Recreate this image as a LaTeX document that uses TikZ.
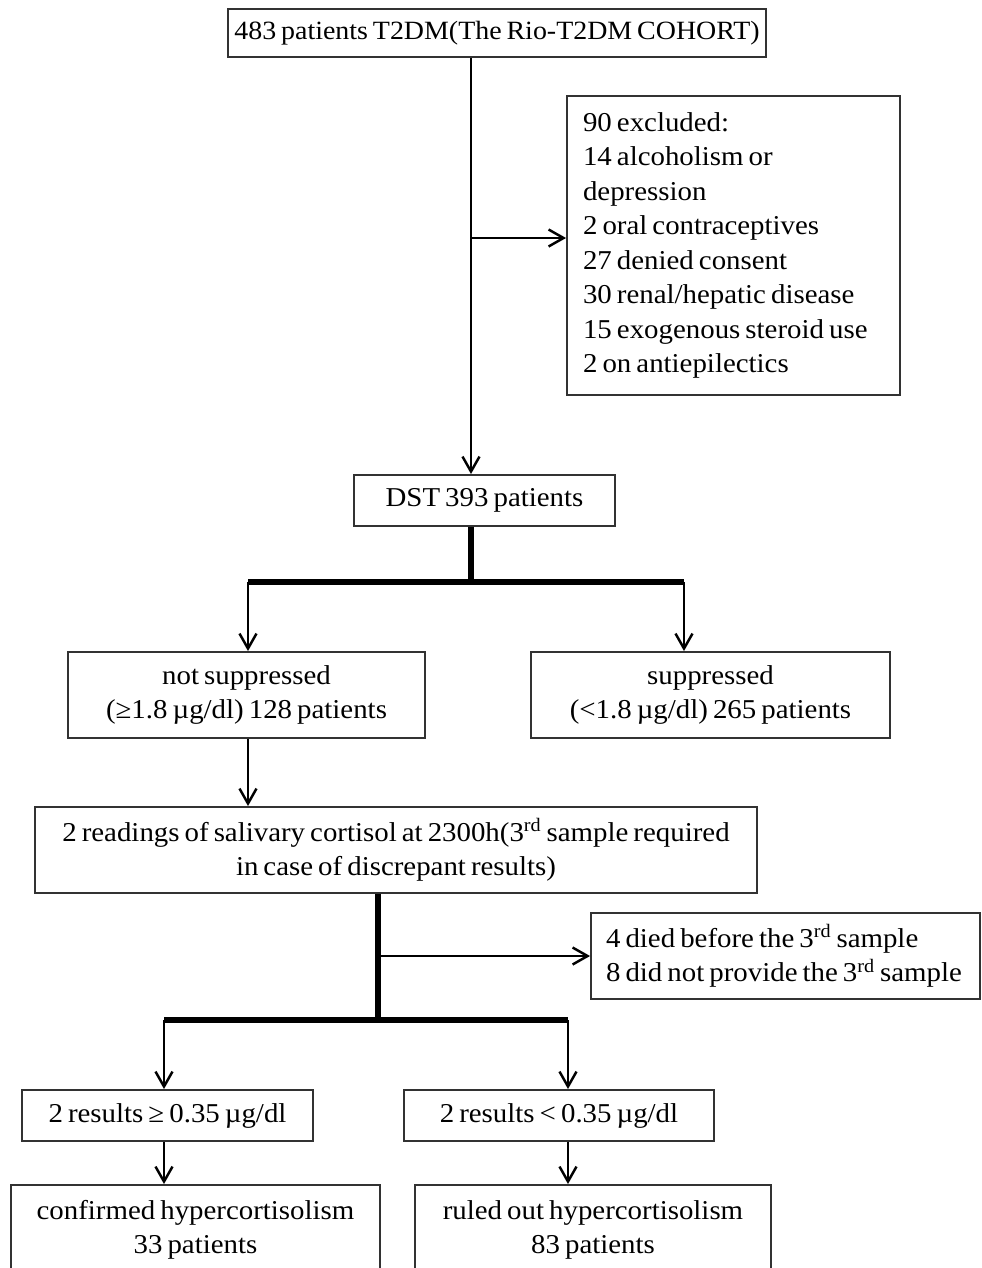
\documentclass[tikz,border=0pt]{standalone}
\usepackage{fontspec}
\setmainfont[FakeStretch=1.06, WordSpace=0.7]{Liberation Serif}
\usetikzlibrary{arrows.meta,positioning,calc}
\definecolor{boxline}{RGB}{50,50,50}
\tikzset{
  stage/.style={draw=boxline, line width=1.1pt, fill=white, align=center,
    inner sep=0pt, text=black},
  note/.style={draw=boxline, line width=1.1pt, fill=white, align=flush left,
    inner xsep=0.32cm, inner ysep=0pt, text=black},
  flow/.style={-{Straight Barb[length=3mm,width=3.4mm]}, line width=1.4pt},
  spine/.style={line width=3pt}
}

\begin{document}
\begin{tikzpicture}[x=0.02cm, y=-0.02cm, font=\fontsize{15.5}{19.6}\selectfont]
  \useasboundingbox (0,0) rectangle (982,1268);
  \clip (0,0) rectangle (982,1268);

  \node[stage, minimum width=10.76cm, minimum height=0.96cm, font=\fontsize{15}{19.6}\selectfont] (cohort) at (497,33) {483 patients T2DM(The Rio-T2DM COHORT)};
  \node[note, text width=6.02cm, minimum height=5.98cm] (excl) at (733.5,245.5) {90 excluded:\\14 alcoholism or\\depression\\2 oral contraceptives\\27 denied consent\\30 renal/hepatic disease\\15 exogenous steroid use\\2 on antiepilectics};
  \node[stage, minimum width=5.22cm, minimum height=1.02cm] (dst) at (484.5,500.5) {DST 393 patients};
  \node[stage, minimum width=7.14cm, minimum height=1.72cm] (notsup) at (246.5,695) {not suppressed\\(≥1.8 µg/dl) 128 patients};
  \node[stage, minimum width=7.18cm, minimum height=1.72cm] (sup) at (710.5,695) {suppressed\\(<1.8 µg/dl) 265 patients};
  \node[stage, minimum width=14.44cm, minimum height=1.72cm] (saliva) at (396,850) {2 readings of salivary cortisol at 2300h(3\textsuperscript{rd} sample required\\in case of discrepant results)};
  \node[note, inner xsep=0.3cm, text width=7.18cm, minimum height=1.72cm] (lost) at (785.5,956) {4 died before the 3\textsuperscript{rd} sample\\8 did not provide the 3\textsuperscript{rd} sample};
  \node[stage, minimum width=5.82cm, minimum height=1.02cm] (highres) at (167.5,1115.5) {2 results ≥ 0.35 µg/dl};
  \node[stage, minimum width=6.2cm, minimum height=1.02cm] (lowres) at (559,1115.5) {2 results < 0.35 µg/dl};
  \node[stage, minimum width=7.38cm, minimum height=1.8cm] (confirmed) at (195.5,1230) {confirmed hypercortisolism\\33 patients};
  \node[stage, minimum width=7.12cm, minimum height=1.8cm] (ruled) at (593,1230) {ruled out hypercortisolism\\83 patients};

  % columns and split levels of the connectors
  \coordinate (trunk) at (471,0);
  \coordinate (split1) at (0,582);
  \coordinate (leftcol) at (248,0);
  \coordinate (rightcol) at (684,0);
  \coordinate (stem) at (378,0);
  \coordinate (split2) at (0,1020);
  \coordinate (highcol) at (164,0);
  \coordinate (lowcol) at (568,0);
  \coordinate (exclin) at ([yshift=0.15cm]excl.west);

  \draw[flow] (cohort.south -| trunk) -- (dst.north -| trunk);
  \draw[flow] (trunk |- exclin) -- (exclin);

  \draw[spine] (dst.south -| trunk) -- (trunk |- split1);
  \draw[spine] (leftcol |- split1) -- (rightcol |- split1);
  \draw[flow] (leftcol |- split1) -- (leftcol |- notsup.north);
  \draw[flow] (rightcol |- split1) -- (rightcol |- sup.north);
  \draw[flow] (notsup.south -| leftcol) -- (saliva.north -| leftcol);

  \draw[spine] (saliva.south -| stem) -- (stem |- split2);
  \draw[flow] (stem |- lost.west) -- (lost.west);
  \draw[spine] (highcol |- split2) -- (lowcol |- split2);
  \draw[flow] (highcol |- split2) -- (highcol |- highres.north);
  \draw[flow] (lowcol |- split2) -- (lowcol |- lowres.north);
  \draw[flow] (highres.south -| highcol) -- (confirmed.north -| highcol);
  \draw[flow] (lowres.south -| lowcol) -- (ruled.north -| lowcol);
\end{tikzpicture}
\end{document}
